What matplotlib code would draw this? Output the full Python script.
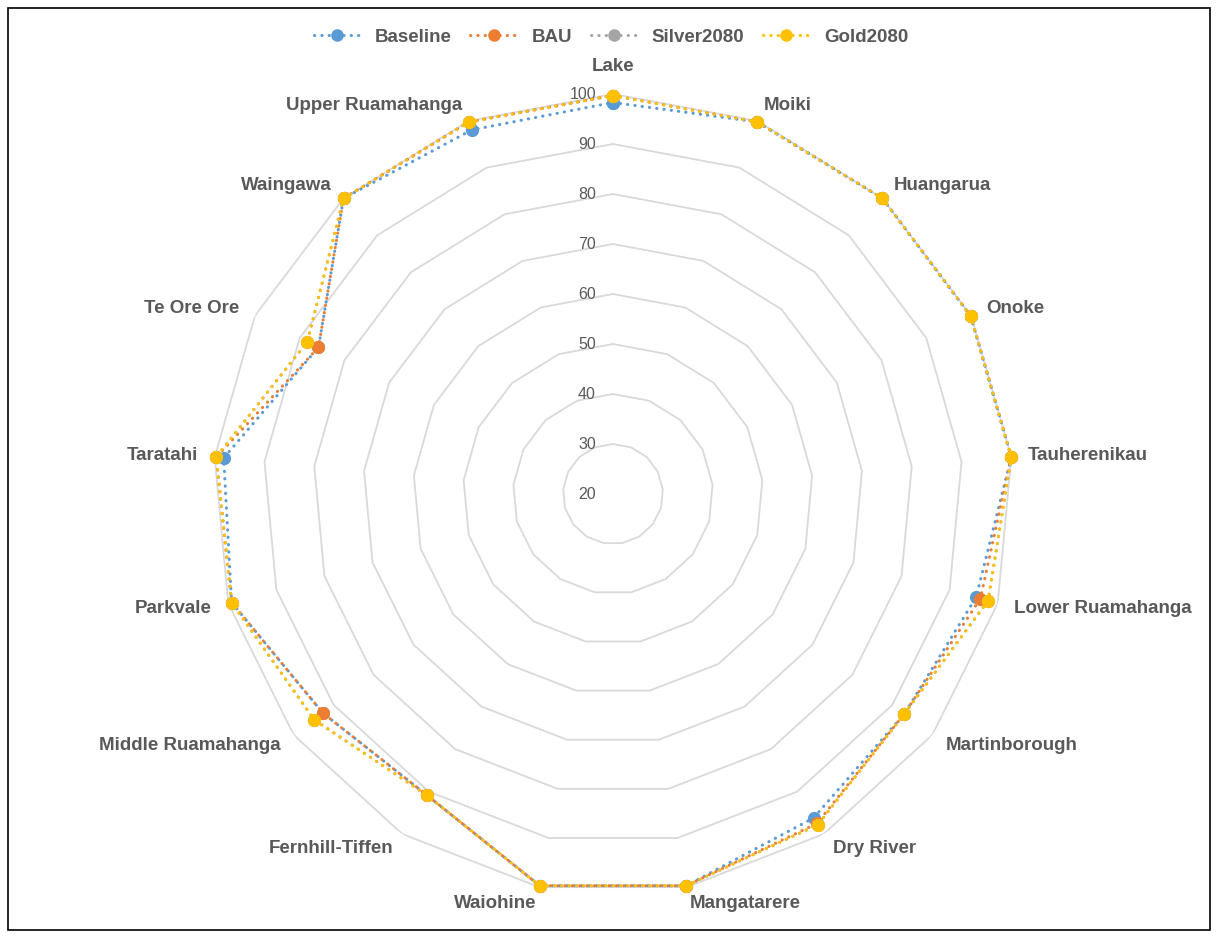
import numpy as np
import matplotlib
matplotlib.use("Agg")
import matplotlib.pyplot as plt
from matplotlib.patches import Rectangle

plt.rcParams["font.family"] = ["Liberation Sans", "DejaVu Sans"]

# categories clockwise from the top
sites = ["Lake", "Moiki", "Huangarua", "Onoke", "Tauherenikau", "Lower Ruamahanga",
         "Martinborough", "Dry River", "Mangatarere", "Waiohine", "Fernhill-Tiffen",
         "Middle Ruamahanga", "Parkvale", "Taratahi", "Te Ore Ore", "Waingawa",
         "Upper Ruamahanga"]

baseline = [98.3, 99.8, 100.0, 99.9, 100.0, 95.5, 93.0, 96.2, 99.7, 99.7, 90.8,
            92.7, 99.3, 98.2, 85.8, 100.0, 98.1]
bau      = [99.7, 99.8, 100.0, 99.9, 100.0, 96.4, 93.0, 97.5, 99.7, 99.7, 90.8,
            92.7, 99.3, 99.7, 85.8, 100.0, 99.8]
silver   = [99.7, 99.8, 100.0, 99.9, 100.0, 98.0, 93.0, 97.8, 99.7, 99.7, 90.8,
            94.9, 99.3, 99.7, 88.3, 100.0, 99.8]
gold     = [99.7, 99.8, 100.0, 99.9, 100.0, 98.0, 93.0, 97.8, 99.7, 99.7, 90.8,
            94.9, 99.3, 99.7, 88.3, 100.0, 99.8]

series = [("Baseline", baseline, "#5B9BD5"),
          ("BAU", bau, "#ED7D31"),
          ("Silver2080", silver, "#A5A5A5"),
          ("Gold2080", gold, "#FFC000")]

rings = [20, 30, 40, 50, 60, 70, 80, 90, 100]
TXT = "#595959"

n = len(sites)
theta = np.arange(n) * 2 * np.pi / n
theta_c = np.append(theta, theta[0])

fig = plt.figure(figsize=(12.17, 9.38), dpi=100)
ax = fig.add_axes([213 / 1217, 44 / 938, 800 / 1217, 800 / 938], projection="polar")
ax.set_theta_zero_location("N")
ax.set_theta_direction(-1)
ax.set_rlim(20, 100)
ax.grid(False)
ax.spines["polar"].set_visible(False)
ax.set_xticks([])
ax.set_yticks([])
ax.patch.set_alpha(0)

# polygon grid rings
for v in rings[1:]:
    ax.plot(theta_c, [v] * (n + 1), color="#D9D9D9", lw=1.3, zorder=1)
for v in rings:
    ax.annotate(str(v), xy=(0, v), xytext=(-17, 0), textcoords="offset pixels",
                ha="right", va="center", fontsize=11.5, color=TXT, zorder=2)

for name, vals, col in series:
    vv = np.append(vals, vals[0])
    ax.plot(theta_c, vv, color=col, lw=2.2, linestyle=(0, (0.1, 2.3)),
            dash_capstyle="round", marker="o", markersize=9.5,
            markeredgewidth=0, label=name, zorder=3, clip_on=False)

# category labels
for t, s in zip(theta, sites):
    sx, cy = np.sin(t), np.cos(t)
    if abs(sx) < 0.05:
        ha = "center"
        va = "bottom" if cy > 0 else "top"
        off = (0, 19 * np.sign(cy))
    else:
        ha = "left" if sx > 0 else "right"
        va = "center"
        off = (17 * sx, 17 * cy)
    ax.annotate(s, xy=(t, 100), xytext=off, textcoords="offset pixels",
                ha=ha, va=va, fontsize=13.5, fontweight="bold", color=TXT)

leg = fig.legend(loc="center", bbox_to_anchor=(611 / 1217, 1 - 37 / 938), ncol=4,
                 frameon=False, handlelength=2.5, handletextpad=0.75,
                 columnspacing=1.0, prop={"size": 13.5, "weight": "bold"},
                 markerscale=0.95)
for t in leg.get_texts():
    t.set_color(TXT)

fig.patches.append(Rectangle((8 / 1217, 8 / 938), 1202 / 1217, 922 / 938,
                             transform=fig.transFigure, fill=False,
                             edgecolor="black", lw=1.2))

fig.savefig("out.png", dpi=100)
